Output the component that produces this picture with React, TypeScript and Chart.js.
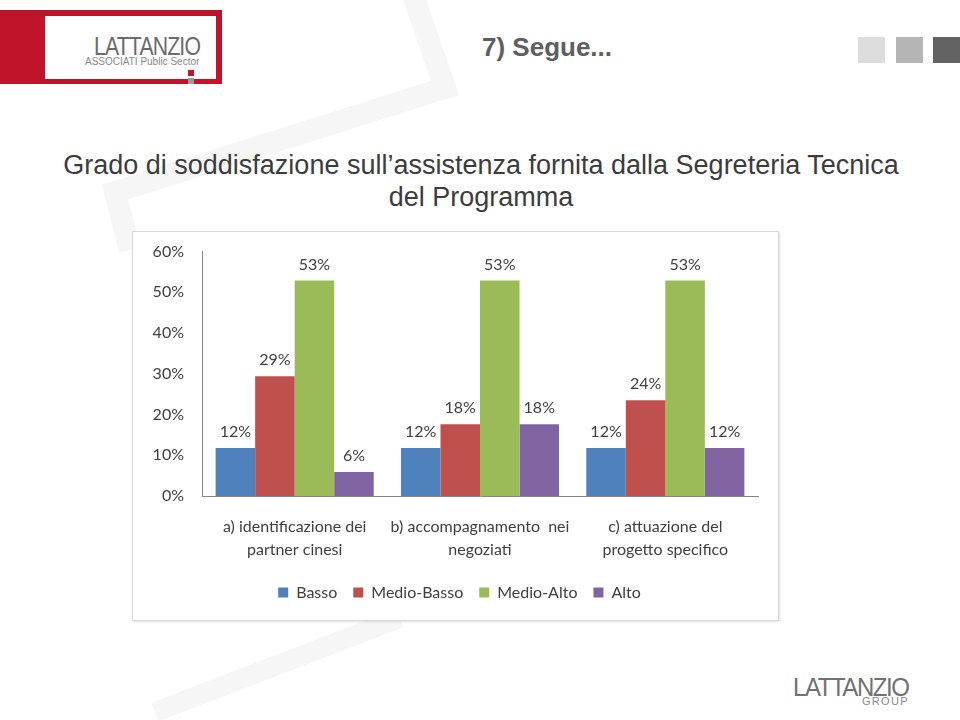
import React, { useEffect, useRef } from "react";
import { Chart, registerables } from "chart.js";

Chart.register(...registerables);

const categories: string[][] = [
  ["a) identificazione dei", "partner cinesi"],
  ["b) accompagnamento  nei", "negoziati"],
  ["c) attuazione del", "progetto specifico"],
];
const seriesNames = ["Basso", "Medio-Basso", "Medio-Alto", "Alto"];
const basso = [11.8, 11.8, 11.8];
const medioBasso = [29.4, 17.6, 23.5];
const medioAlto = [52.9, 52.9, 52.9];
const alto = [5.9, 17.6, 11.8];
const seriesColors = ["#4F81BD", "#C0504D", "#9BBB59", "#8064A2"];
const yTicks = [0, 10, 20, 30, 40, 50, 60];

const FONT = "Lato, 'Open Sans', sans-serif";

const valueLabels = {
  id: "valueLabels",
  afterDatasetsDraw(chart: any) {
    const ctx = chart.ctx;
    ctx.save();
    ctx.font = `16px ${FONT}`;
    ctx.fillStyle = "#404040";
    ctx.textAlign = "center";
    ctx.textBaseline = "middle";
    chart.data.datasets.forEach((ds: any, i: number) => {
      const meta = chart.getDatasetMeta(i);
      meta.data.forEach((bar: any, j: number) => {
        const v = ds.data[j];
        ctx.fillText(Math.round(v) + "%", bar.x, bar.y - 16);
      });
    });
    ctx.restore();
  },
};

// shift the legend a little to the right, as in the reference
const legendShift = {
  id: "legendShift",
  afterUpdate(chart: any) {
    const lg = chart.legend;
    if (!lg) return;
    lg.left += 14;
    lg.right += 14;
    lg.adjustHitBoxes();
  },
};

function BarChart() {
  const ref = useRef<HTMLCanvasElement | null>(null);
  useEffect(() => {
    if (!ref.current) return;
    const all = [basso, medioBasso, medioAlto, alto];
    const chart = new Chart(ref.current, {
      type: "bar",
      data: {
        labels: categories,
        datasets: all.map((d, i) => ({
          label: seriesNames[i],
          data: d,
          backgroundColor: seriesColors[i],
          borderWidth: 0,
          categoryPercentage: 0.853,
          barPercentage: 1,
        })),
      },
      options: {
        responsive: false,
        animation: false,
        layout: { padding: { top: 15, right: 20, left: 0, bottom: 9.5 } },
        plugins: {
          tooltip: { enabled: false },
          legend: {
            position: "bottom",
            labels: {
              boxWidth: 10,
              boxHeight: 10,
              padding: 16,
              color: "#404040",
              font: { family: FONT, size: 16 },
            },
          },
        },
        scales: {
          x: {
            grid: { display: false },
            border: { color: "#868686", width: 1 },
            ticks: {
              color: "#404040",
              font: { family: FONT, size: 16, lineHeight: 1.4 },
              padding: 12,
              maxRotation: 0,
              autoSkip: false,
            },
            afterFit(scale: any) {
              scale.height = 72.5;
            },
          },
          y: {
            min: 0,
            max: 60,
            grid: { display: false },
            border: { color: "#868686", width: 1 },
            afterBuildTicks(scale: any) {
              scale.ticks = yTicks.map((v) => ({ value: v }));
            },
            ticks: {
              color: "#404040",
              font: { family: FONT, size: 16 },
              padding: 10,
              callback: (v: any) => v + "%",
            },
            afterFit(scale: any) {
              scale.width = 69;
            },
          },
        },
      },
      plugins: [valueLabels, legendShift],
    });
    return () => chart.destroy();
  }, []);
  return <canvas ref={ref} width={645} height={388} style={{ display: "block" }} />;
}

export default function App() {
  const abs = (s: React.CSSProperties): React.CSSProperties => ({ position: "absolute", ...s });
  return (
    <div
      style={{
        position: "fixed",
        left: 0,
        top: 0,
        width: 960,
        height: 720,
        background: "#ffffff",
        overflow: "hidden",
        fontFamily: "'Liberation Sans', Arial, sans-serif",
      }}
    >
      <svg width={960} height={720} style={{ position: "absolute", left: 0, top: 0 }}>
        <polyline
          points="413,-5 445,88 115,192 130,250"
          fill="none"
          stroke="#f6f6f6"
          strokeWidth={22}
          strokeLinejoin="miter"
        />
        <line x1={155} y1={712} x2={400} y2={618} stroke="#f6f6f6" strokeWidth={20} />
      </svg>

      {/* logo top-left */}
      <div style={abs({ left: 0, top: 10, width: 222, height: 74, background: "#c0142b" })} />
      <div style={abs({ left: 45, top: 16, width: 171, height: 63, background: "#ffffff" })} />
      <div
        style={abs({
          left: 94,
          top: 33,
          fontSize: 25,
          color: "#6b6b6b",
          letterSpacing: -1,
          lineHeight: "26px",
          transform: "scaleX(0.85)",
          transformOrigin: "0 0",
          whiteSpace: "nowrap",
        })}
      >
        LATTANZIO
      </div>
      <div style={abs({ left: 85, top: 56, fontSize: 10, color: "#8a8a8a", lineHeight: "12px", whiteSpace: "nowrap" })}>
        ASSOCIATI Public Sector
      </div>
      <div style={abs({ left: 188, top: 70, width: 6, height: 6, background: "#c0142b" })} />
      <div style={abs({ left: 188, top: 78, width: 6, height: 6, background: "#9a9a9a" })} />

      {/* header */}
      <div style={abs({ left: 482, top: 32, fontSize: 26, fontWeight: "bold", color: "#5f5f5f", lineHeight: "30px" })}>
        7) Segue...
      </div>
      <div style={abs({ left: 858, top: 37, width: 27, height: 26, background: "#dcdcdc" })} />
      <div style={abs({ left: 896, top: 37, width: 27, height: 26, background: "#b5b5b5" })} />
      <div style={abs({ left: 933, top: 37, width: 27, height: 26, background: "#636363" })} />

      {/* title */}
      <div
        style={abs({
          left: 0,
          top: 149,
          width: 962,
          textAlign: "center",
          fontSize: 27,
          color: "#3c3c3c",
          lineHeight: "32px",
        })}
      >
        Grado di soddisfazione sull’assistenza fornita dalla Segreteria Tecnica
        <br />
        del Programma
      </div>

      {/* chart box */}
      <div
        style={abs({
          left: 132,
          top: 231,
          width: 645,
          height: 388,
          border: "1px solid #d9d9d9",
          boxShadow: "1px 1px 2px rgba(0,0,0,0.12)",
          background: "#ffffff",
        })}
      >
        <BarChart />
      </div>

      {/* footer logo */}
      <div
        style={abs({
          left: 793,
          top: 674,
          fontSize: 25,
          color: "#717171",
          letterSpacing: -1.5,
          lineHeight: "26px",
          transform: "scaleX(0.96)",
          transformOrigin: "0 0",
          whiteSpace: "nowrap",
        })}
      >
        LATTANZIO
      </div>
      <div style={abs({ left: 862, top: 695, fontSize: 11, color: "#8a8a8a", letterSpacing: 1.3, lineHeight: "12px" })}>
        GROUP
      </div>
    </div>
  );
}
